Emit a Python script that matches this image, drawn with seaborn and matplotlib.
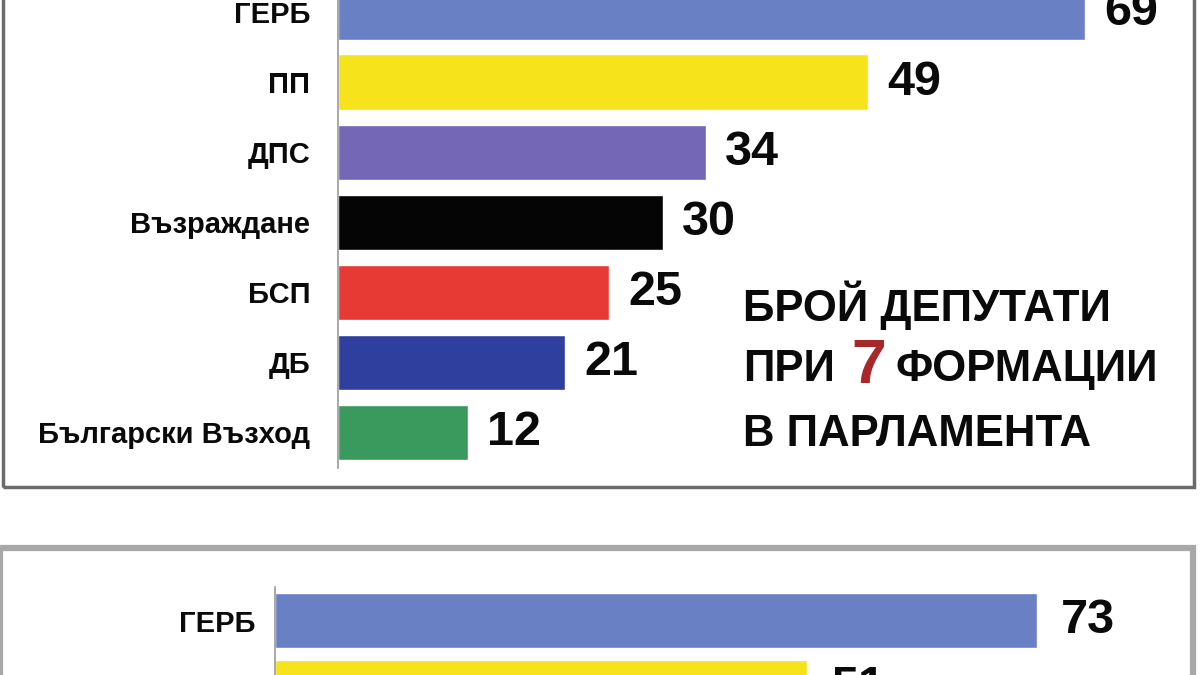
import matplotlib
matplotlib.use('Agg')
import matplotlib.pyplot as plt
import seaborn as sns
from matplotlib import font_manager
from matplotlib.patches import Rectangle

# data
parties_top = ['ГЕРБ', 'ПП', 'ДПС', 'Възраждане', 'БСП', 'ДБ', 'Български Възход']
seats_top = [69, 49, 34, 30, 25, 21, 12]
colors_top = ['#6a80c4', '#f7e31c', '#7467b5', '#050505', '#e83a34', '#2f3f9e', '#3a9a5e']

parties_bottom = ['ГЕРБ', 'ПП']
seats_bottom = [73, 51]
colors_bottom = ['#6a80c4', '#f7e31c']

title_lines = ['БРОЙ ДЕПУТАТИ', 'ПРИ', '7', 'ФОРМАЦИИ', 'В ПАРЛАМЕНТА']

sns.set_theme(style='white')
names = {f.name for f in font_manager.fontManager.ttflist}
narrow = 'Liberation Sans Narrow' if 'Liberation Sans Narrow' in names else 'Liberation Sans'
plt.rcParams['font.family'] = [narrow, 'DejaVu Sans']

W, H = 1200, 675


def box(x0, y0, x1, y1):
    # pixel box (top-left origin) -> figure fraction
    return [x0 / W, 1 - y1 / H, (x1 - x0) / W, (y1 - y0) / H]


def panel(ax, parties, seats, colors, width, label_pad, value_pad, xmax):
    sns.barplot(x=seats, y=parties, hue=parties, palette=colors, legend=False,
                orient='h', width=width, saturation=1, ax=ax)
    ax.set_facecolor('none')
    ax.set_xlim(0, xmax)
    ax.set_ylim(len(parties) - 0.5, -0.5)
    ax.set_xlabel('')
    ax.set_ylabel('')
    ax.set_xticks([])
    for s in ['top', 'right', 'bottom']:
        ax.spines[s].set_visible(False)
    ax.spines['left'].set_color('#9a9a9a')
    ax.spines['left'].set_linewidth(1.2)
    ax.tick_params(axis='y', length=0, pad=label_pad)
    for lab in ax.get_yticklabels():
        lab.set_fontsize(21)
        lab.set_fontweight('bold')
        lab.set_color('#0a0a0a')
    for c in ax.containers:
        ax.bar_label(c, padding=value_pad, fontsize=35, fontweight='bold',
                     color='#0a0a0a', family=['Liberation Sans', 'DejaVu Sans'])


fig = plt.figure(figsize=(12, 6.75), dpi=100)

# frames
fig.add_artist(Rectangle((3 / W, 1 - 487 / H), 1191 / W, 520 / H, transform=fig.transFigure,
                         fill=False, edgecolor='#6b6b6b', linewidth=2.5, zorder=5))
fig.add_artist(Rectangle((0 / W, 1 - 740 / H), 1193 / W, 192 / H, transform=fig.transFigure,
                         fill=False, edgecolor='#a8a8a8', linewidth=4.5, zorder=5))

ax_top = fig.add_axes(box(338, -23, 1194, 467.5))
panel(ax_top, parties_top, seats_top, colors_top, 0.79, 20, 14, (1194 - 338) / 10.82)

ax_bot = fig.add_axes(box(275, 587, 1193, 721))
panel(ax_bot, parties_bottom, seats_bottom, colors_bottom, 0.82, 14, 17, (1193 - 275) / 10.44)

# title block
tfont = dict(fontsize=31.5, fontweight='bold', color='#0a0a0a',
             family=['Liberation Sans', 'DejaVu Sans'])
fig.text(743 / W, 1 - 321 / H, title_lines[0], va='baseline', ha='left', **tfont)
t2 = fig.text(743 / W, 1 - 381 / H, title_lines[1], va='baseline', ha='left', **tfont)
seven = fig.text(0, 0, title_lines[2], va='baseline', ha='left', fontsize=45, fontweight='bold',
                 color='#a8282a', family=['Liberation Sans', 'DejaVu Sans'])
fig.canvas.draw()
r = fig.canvas.get_renderer()
inv = fig.transFigure.inverted()
bb = t2.get_window_extent(r)
x1 = inv.transform((bb.x1, bb.y0))[0]
seven.set_position((x1 + 16 / W, 1 - 383 / H))
bb7 = seven.get_window_extent(r)
x7 = inv.transform((bb7.x1, bb7.y0))[0]
fig.text(x7 + 10 / W, 1 - 381 / H, title_lines[3], va='baseline', ha='left', **tfont)
fig.text(743 / W, 1 - 446 / H, title_lines[4], va='baseline', ha='left', **tfont)

fig.savefig('out.png', dpi=100, facecolor='white')
